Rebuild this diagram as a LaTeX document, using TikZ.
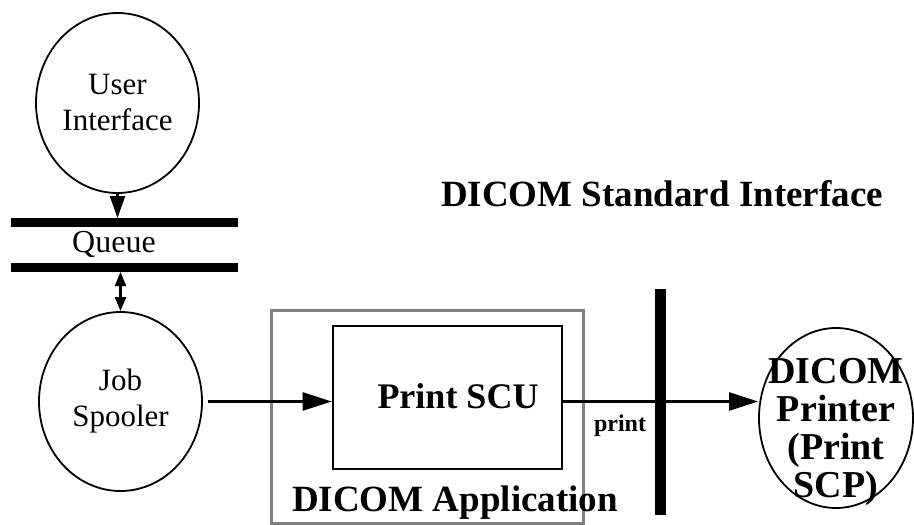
\documentclass[tikz,border=0pt]{standalone}
\usepackage{fontspec}
\setmainfont{Liberation Serif}
\usetikzlibrary{shapes.geometric,arrows.meta}

\begin{document}
\begin{tikzpicture}[x=1pt,y=-1pt]
    % Fix the size of the picture
    \useasboundingbox (0,0) rectangle (914,525);

    % Styles of the parts
    \tikzset{
      proc/.style={draw, ellipse, line width=1.8pt, inner sep=0pt, align=center,
                   font=\fontsize{31}{36}\selectfont},
      bar/.style={line width=9pt},
      arr/.style={line width=2.4pt, -{Triangle[length=29pt,width=18pt]}},
      bigtxt/.style={font=\bfseries\fontsize{37}{38}\selectfont, align=center},
    }

    % Define the ends of the queue bars and the interface bar
    \coordinate (Q1L) at (11,222.5);
    \coordinate (Q1R) at (238,222.5);
    \coordinate (Q2L) at (11,267.5);
    \coordinate (Q2R) at (238,267.5);
    \coordinate (DSItop) at (660.5,289);
    \coordinate (DSIbot) at (660.5,515);

    % Processes
    \node[proc, minimum width=163pt, minimum height=180pt] (user) at (117.5,103) {User\\Interface};
    \node[proc, minimum width=163pt, minimum height=179pt] (spool) at (120.5,401.5) {Job\\Spooler};
    \node[draw, ellipse, line width=1.8pt, minimum width=154pt, minimum height=180pt] (printer) at (836,418) {};
    \node[bigtxt, font=\bfseries\fontsize{38}{38}\selectfont] (printertxt) at (836,432) {DICOM\\Printer\\(Print\\SCP)};

    % DICOM application with the Print SCU inside
    \node[draw=black!50, line width=3pt, minimum width=312pt, minimum height=213pt, inner sep=0pt] (app) at (427,416.5) {};
    \node[draw, line width=2.6pt, minimum width=229pt, minimum height=143pt, inner sep=0pt] (scu) at (447.5,397.5) {};
    \node[bigtxt, font=\bfseries\fontsize{36}{38}\selectfont] (scutxt) at (458,396) {Print SCU};
    \node[bigtxt] (apptxt) at (455,503) {DICOM Application};

    % Queue
    \draw[bar] (Q1L) -- (Q1R);
    \draw[bar] (Q2L) -- (Q2R);
    \node[font=\fontsize{32}{35}\selectfont] (queue) at (114,244) {Queue};

    % Interface bar and labels
    \draw[line width=11pt] (DSItop) -- (DSIbot);
    \node[bigtxt] (dsi) at (662,194) {DICOM Standard Interface};
    \node[font=\bfseries\fontsize{24}{26}\selectfont] (print) at (620,426) {print};

    % Connectors (yshift works on the page, so up is positive)
    \draw[line width=2.2pt, -{Triangle[length=22pt,width=15pt]}] (user.south) -- ([yshift=4.5pt]Q1L -| user.south);
    \draw[line width=2.2pt, {Triangle[length=14pt,width=11pt]}-{Triangle[length=14pt,width=11pt]}]
        ([yshift=-4.5pt]Q2L -| spool.north) -- (spool.north);
    \draw[arr] ([xshift=5pt]spool.east) -- (spool.east -| scu.west);
    \draw[arr] (scu.east |- spool.east) -- (printer.west |- spool.east);
\end{tikzpicture}
\end{document}
